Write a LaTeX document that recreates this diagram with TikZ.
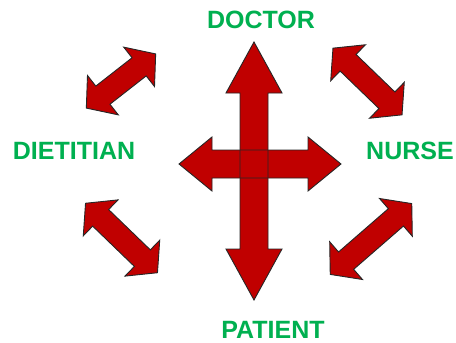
\documentclass[tikz,border=0pt]{standalone}
\usepackage{fontspec}
\setmainfont{Liberation Sans}
\definecolor{arrred}{RGB}{192,0,0}
\definecolor{lblgreen}{RGB}{0,176,80}
\tikzset{
  arrfill/.style={fill=arrred,draw=none},
  arrline/.style={draw=black!85,line width=0.9pt,line join=miter},
  lbl/.style={text=lblgreen,font=\fontsize{25}{25}\selectfont\bfseries,inner sep=0pt}
}
% center x, center y, angle, half length, head length, head half width, shaft half width, style
\newcommand{\arrshape}[8]{%
  \begin{scope}[shift={(#1,#2)},rotate=#3]
    \path[#8] (-#4,0) -- ({-#4+#5},#6) -- ({-#4+#5},#7) -- ({#4-#5},#7) -- ({#4-#5},#6) -- (#4,0) -- ({#4-#5},-#6) -- ({#4-#5},-#7) -- ({-#4+#5},-#7) -- ({-#4+#5},-#6) -- cycle;
  \end{scope}}
\begin{document}
\begin{tikzpicture}[x=1pt,y=-1pt]
\useasboundingbox[fill=white] (0,0) rectangle (456,343);
% diagonal arrows
\arrshape{121}{81}{38}{44}{21}{25}{11.5}{arrfill,arrline}
\arrshape{367.5}{81.5}{-44}{48}{21}{25}{11.5}{arrfill,arrline}
\arrshape{121.5}{238}{-44}{50}{21}{25}{11.5}{arrfill,arrline}
\arrshape{371}{239}{41}{54}{21}{25}{11.5}{arrfill,arrline}
% central cross
\arrshape{254}{171}{90}{129}{51}{28}{14}{arrfill}
\arrshape{260}{164}{0}{81}{33}{27}{14}{arrfill}
\arrshape{254}{171}{90}{129}{51}{28}{14}{arrline}
\arrshape{260}{164}{0}{81}{33}{27}{14}{arrline}
% labels
\node[lbl] (doctor) at (261,20) {DOCTOR};
\node[lbl] (dietitian) at (74,151) {DIETITIAN};
\node[lbl] (nurse) at (410,151) {NURSE};
\node[lbl] (patient) at (273,330) {PATIENT};
\end{tikzpicture}
\end{document}
